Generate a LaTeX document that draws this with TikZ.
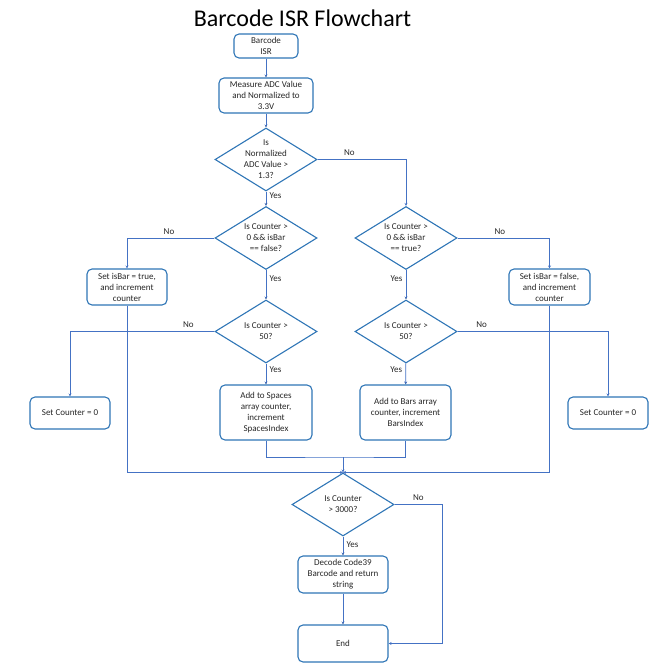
\documentclass[tikz,border=0pt]{standalone}
\usepackage{fontspec}
\setmainfont{Carlito}
\usetikzlibrary{shapes.geometric,arrows.meta}
\definecolor{boxblue}{HTML}{2E75B6}
\definecolor{lineblue}{HTML}{4472C4}
\definecolor{txtgray}{HTML}{262626}
\begin{document}
\begin{tikzpicture}[x=1pt,y=-1pt,
  every node/.style={font=\fontsize{9}{11}\selectfont,text=txtgray},
  proc node/.style={rectangle,rounded corners=5pt,draw=boxblue,line width=1.1pt,align=center,inner sep=1pt},
  dec node/.style={diamond,draw=boxblue,line width=1.1pt,align=center,aspect=1.6,inner sep=-6pt,minimum width=102pt,minimum height=63pt},
  flow/.style={draw=lineblue,line width=0.8pt,-{Stealth[length=3pt,width=3pt]}},
  link/.style={draw=lineblue,line width=0.8pt}]

\useasboundingbox (0,0) rectangle (667,668);

\node (title) at (302.5,18) {\fontsize{24}{28}\selectfont\color{black}Barcode ISR Flowchart};

\node[proc node,minimum width=64pt,minimum height=24pt] (start) at (266,46) {Barcode\\ISR};
\node[proc node,minimum width=94pt,minimum height=35pt] (meas) at (266,95.5) {Measure ADC Value\\and Normalized to\\3.3V};
\node[dec node] (d1) at (266,159.5) {Is\\Normalized\\ADC Value >\\1.3?};
\node[dec node] (d2) at (266,238) {Is Counter >\\0 \&\& isBar\\== false?};
\node[dec node] (d3) at (406,238) {Is Counter >\\0 \&\& isBar\\== true?};
\node[proc node,minimum width=80pt,minimum height=36pt] (setT) at (127,287) {Set isBar = true,\\and increment\\counter};
\node[proc node,minimum width=81pt,minimum height=36pt] (setF) at (549.5,287) {Set isBar = false,\\and increment\\counter};
\node[dec node] (d4) at (266,331.5) {Is Counter >\\50?};
\node[dec node] (d5) at (406,331.5) {Is Counter >\\50?};
\node[proc node,minimum width=80pt,minimum height=32pt] (zeroL) at (70,413) {Set Counter = 0};
\node[proc node,minimum width=80pt,minimum height=32pt] (zeroR) at (608,413) {Set Counter = 0};
\node[proc node,minimum width=92pt,minimum height=55pt] (spaces) at (266,412.5) {Add to Spaces\\array counter,\\increment\\SpacesIndex};
\node[proc node,minimum width=91pt,minimum height=55pt] (bars) at (405.5,412.5) {Add to Bars array\\counter, increment\\BarsIndex};
\node[dec node] (d6) at (343,504.5) {Is Counter\\> 3000?};
\node[proc node,minimum width=90pt,minimum height=37pt] (decode) at (343,574.5) {Decode Code39\\Barcode and return\\string};
\node[proc node,minimum width=90pt,minimum height=37pt] (endb) at (343,643.5) {End};

\coordinate (jb) at (343,457);
\coordinate (nr) at (442,504.5);

% straight arrows
\path (start) [flow] edge (meas)
(meas) edge (d1)
(d1) edge node [right,pos=0.3] {Yes} (d2)
(d2) edge node [right,pos=0.3] {Yes} (d4)
(d3) edge node [left,pos=0.3] {Yes} (d5)
(d4) edge node [right,pos=0.3] {Yes} (spaces)
(d5) edge node [left,pos=0.3] {Yes} (bars)
(d6) edge node [right,pos=0.45] {Yes} (decode)
(decode) edge (endb);

% bent arrows
\draw[flow] (d1.east) -| node [pos=0.18,above] {No} (d3.north);
\draw[flow] (d2.west) -| node [pos=0.26,above] {No} (setT.north);
\draw[flow] (d3.east) -| node [pos=0.23,above] {No} (setF.north);
\draw[flow] (d4.west) -| node [pos=0.09,above] {No} (zeroL.north);
\draw[flow] (d5.east) -| node [pos=0.08,above] {No} (zeroR.north);
\draw[link] (spaces.south) |- (jb) -| (bars.south);
\draw[flow] (jb) -- (d6.north);
\draw[flow] (setT.south) |- (d6.north);
\draw[flow] (setF.south) |- (d6.north);
\draw[flow] (d6.east) -- node [pos=0.5,above] {No} (nr) |- (endb.east);

\end{tikzpicture}
\end{document}
